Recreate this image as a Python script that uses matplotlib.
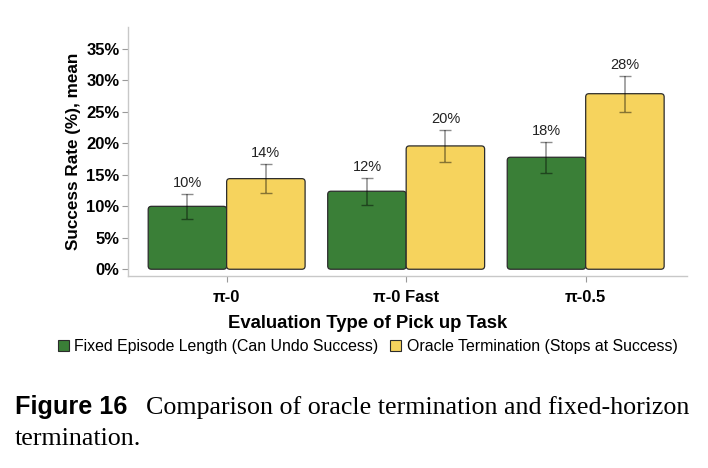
import numpy as np
import matplotlib
matplotlib.use("Agg")
import matplotlib.pyplot as plt
from matplotlib.patches import FancyBboxPatch, Patch

categories = ["π-0", "π-0 Fast", "π-0.5"]
series_names = ["Fixed Episode Length (Can Undo Success)", "Oracle Termination (Stops at Success)"]
fixed_vals = [10.0, 12.4, 17.8]
fixed_err = [2.0, 2.15, 2.45]
oracle_vals = [14.4, 19.6, 27.9]
oracle_err = [2.25, 2.5, 2.85]
y_ticks = [0, 5, 10, 15, 20, 25, 30, 35]
colors = ["#3a7f37", "#f6d35d"]

plt.rcParams['font.family'] = ['Liberation Sans', 'DejaVu Sans']

fig = plt.figure(figsize=(7.08, 4.68), dpi=100)
ax = fig.add_axes([0.1804, 0.4103, 0.7896, 0.532])

x = np.arange(len(categories))
w = 0.437
ax.set_xlim(-0.551, 2.563)
ax.set_ylim(-1.07, 38.5)

fig.canvas.draw()
p0 = ax.transData.inverted().transform((0, 0))
p1 = ax.transData.inverted().transform((1, 1))
aspect = (p1[1] - p0[1]) / (p1[0] - p0[0])

for vals, errs, off, col in [(fixed_vals, fixed_err, -w / 2, colors[0]),
                             (oracle_vals, oracle_err, w / 2, colors[1])]:
    bars = ax.bar(x + off, vals, width=w, color=col, alpha=0)
    for b, v, e in zip(bars, vals, errs):
        r = 0.018
        fb = FancyBboxPatch((b.get_x(), b.get_y()), b.get_width(), b.get_height(),
                            boxstyle=f"round,pad=0,rounding_size={r}",
                            mutation_aspect=aspect, facecolor=col,
                            edgecolor="#2b2b2b", linewidth=0.9, zorder=2)
        ax.add_patch(fb)
        cx = b.get_x() + b.get_width() / 2
        ax.errorbar(cx, v, yerr=e, color=(0, 0, 0, 0.45), capsize=4.5,
                    elinewidth=1.1, capthick=1.0, zorder=3)
        ax.annotate(f"{v:.0f}%", (cx, v + e), xytext=(0, 3), textcoords="offset points",
                    ha="center", va="bottom", fontsize=10.5, color="#222222", zorder=4)

ax.set_yticks(y_ticks)
ax.set_yticklabels([f"{t}%" for t in y_ticks], fontsize=12, fontweight="bold")
ax.set_xticks(x)
ax.set_xticklabels(categories, fontsize=12, fontweight="bold")
for s in ["top", "right"]:
    ax.spines[s].set_visible(False)
for s in ["left", "bottom"]:
    ax.spines[s].set_color("#c8c8c8")
    ax.spines[s].set_linewidth(1.0)
ax.tick_params(axis="both", length=4, color="#999999", width=0.8, pad=2)
ax.tick_params(axis="x", pad=6)
ax.set_ylabel("Success Rate (%), mean", fontsize=12.3, fontweight="bold", labelpad=4)

fig.text(367.5 / 708, 1 - 323.5 / 468, "Evaluation Type of Pick up Task", fontsize=13.3,
         fontweight="bold", ha="center", va="center")

handles = [Patch(facecolor=colors[0], edgecolor="#2b2b2b", linewidth=0.8),
           Patch(facecolor=colors[1], edgecolor="#2b2b2b", linewidth=0.8)]
fig.legend(handles, series_names, loc="center", bbox_to_anchor=(367.5 / 708, 1 - 346.5 / 468), ncol=2,
           frameon=False, fontsize=11.4, handlelength=0.7, handleheight=0.7,
           handletextpad=0.36, columnspacing=0.7, borderpad=0)

fig.text(15 / 708, 1 - 414 / 468, "Figure 16", fontsize=18.2, fontweight="bold", ha="left", va="baseline")
fig.text(146 / 708, 1 - 414 / 468, "Comparison of oracle termination and fixed-horizon",
         fontsize=18.7, family=["Liberation Serif", "DejaVu Serif"], ha="left", va="baseline")
fig.text(15 / 708, 1 - 445 / 468, "termination.",
         fontsize=18.7, family=["Liberation Serif", "DejaVu Serif"], ha="left", va="baseline")

fig.savefig("out.png", dpi=100)
